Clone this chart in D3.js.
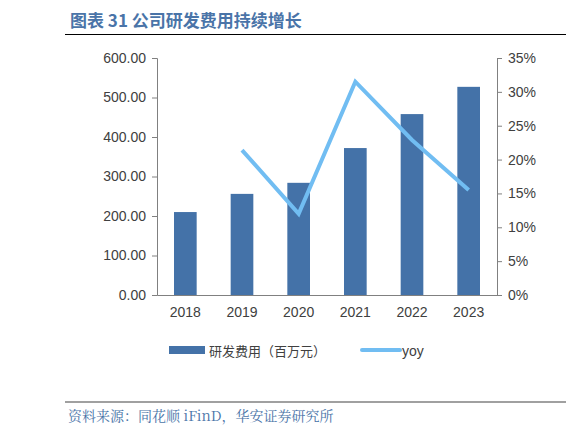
<!DOCTYPE html><html><head><meta charset="utf-8"><script src="https://cdn.jsdelivr.net/npm/d3@7"></script>
<style>body{margin:0;background:#fff}</style></head><body><svg id="c" width="566" height="436"></svg>
<script>
const years=["2018","2019","2020","2021","2022","2023"];
const rd=[210,256,284,372,458,527];
const yoy=[null,21.4,12.0,31.5,22.9,15.5];
const leftTicks=[0,100,200,300,400,500,600];
const rightTicks=[0,5,10,15,20,25,30,35];
const svg=d3.select("#c");
const f="Liberation Sans, Arial, sans-serif";
svg.append("text").attr("x",70).attr("y",27).attr("fill","#4a74a8").attr("font-weight","bold").attr("font-size",17).attr("font-family","Noto Sans CJK SC").text("图表 31 公司研发费用持续增长");
svg.append("line").attr("x1",65).attr("x2",566).attr("y1",34.5).attr("y2",34.5).attr("stroke","#000").attr("stroke-width",1);
const x=d3.scaleBand().domain(years).range([157,497]).paddingInner(0.6).paddingOuter(0.3);
const yl=d3.scaleLinear().domain([0,600]).range([295,58]);
const yr=d3.scaleLinear().domain([0,35]).range([295,58]);
const gl=svg.append("g").attr("transform","translate(157,0)").call(d3.axisLeft(yl).tickValues(leftTicks).tickFormat(d3.format(".2f")).tickSize(5));
const gr=svg.append("g").attr("transform","translate(497,0)").call(d3.axisRight(yr).tickValues(rightTicks).tickFormat(d=>d+"%").tickSize(5));
const gx=svg.append("g").attr("transform","translate(0,295)").call(d3.axisBottom(x).tickSize(0).tickPadding(12));
[gl,gr,gx].forEach(g=>{g.selectAll("text").attr("font-family",f).attr("font-size",14).attr("fill","#404040");g.selectAll("line,path").attr("stroke","#808080");});
gl.selectAll("text").attr("dx",-3);gr.selectAll("text").attr("dx",3);
svg.selectAll(".bar").data(rd).join("rect").attr("x",(d,i)=>x(years[i])).attr("width",x.bandwidth()).attr("y",d=>yl(d)).attr("height",d=>295-yl(d)).attr("fill","#4472a8");
const line=d3.line().defined(d=>d!=null).x((d,i)=>x(years[i])+x.bandwidth()/2).y(d=>yr(d));
svg.append("path").datum(yoy).attr("d",line).attr("fill","none").attr("stroke","#71bdf2").attr("stroke-width",4);
svg.append("rect").attr("x",169).attr("y",346).attr("width",36).attr("height",8).attr("fill","#4472a8");
svg.append("text").attr("x",209).attr("y",356).attr("font-family","Noto Sans CJK SC").attr("font-size",13).attr("fill","#404040").text("研发费用（百万元）");
svg.append("line").attr("x1",362).attr("x2",400).attr("y1",350).attr("y2",350).attr("stroke","#71bdf2").attr("stroke-width",4).attr("stroke-linecap","round");
svg.append("text").attr("x",402).attr("y",356).attr("font-family",f).attr("font-size",14).attr("fill","#404040").text("yoy");
svg.append("line").attr("x1",65).attr("x2",566).attr("y1",402).attr("y2",402).attr("stroke","#808080").attr("stroke-width",1.5);
svg.append("text").attr("x",68).attr("y",421).attr("font-family","Noto Serif CJK SC, Noto Sans CJK SC").attr("font-size",14).attr("fill","#4a74a8").text("资料来源：同花顺 iFinD，华安证券研究所");
</script></body></html>
